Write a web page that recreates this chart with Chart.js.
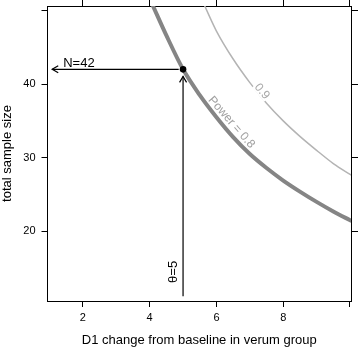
<!DOCTYPE html>
<html>
<head>
<meta charset="utf-8">
<script src="https://cdn.jsdelivr.net/npm/chart.js@4/dist/chart.umd.min.js"></script>
<style>
html, body { margin: 0; padding: 0; background: #fff; }
</style>
</head>
<body>
<canvas id="power-chart" width="358" height="347"></canvas>
<script>
// Werte
var power80X = [4.08, 4.5, 5, 5.5, 6, 6.5, 7, 7.5, 8, 8.5, 9, 9.5, 10.05];
var power80Y = [50.8, 46.6, 42.0, 38.5, 35.5, 32.8, 30.5, 28.6, 26.9, 25.4, 24.0, 22.7, 21.4];
var power90X = [5.63, 6, 6.5, 7, 7.5, 8, 8.5, 9, 9.5, 10.05];
var power90Y = [50.8, 47.2, 43.4, 40.2, 37.4, 35.0, 32.9, 31.0, 29.2, 27.6];

var thetaValue = 5;
var nValue = 42;

var xTicks = [2, 4, 6, 8, 10];
var xTickLabels = ['2', '4', '6', '8', ''];
var yTicks = [20, 30, 40, 50];
var yTickLabels = ['20', '30', '40', ''];

var xTitle = 'D1 change from baseline in verum group';
var yTitle = 'total sample size';

var FONT = "'Liberation Sans', Arial, sans-serif";

var toPoints = (xs, ys) => xs.map((x, i) => ({ x: x, y: ys[i] }));

// feste Achsengroessen, damit der Plotbereich wie im Original liegt
var fixSize = (w, h) => (scale) => {
    if (w != null) scale.width = w;
    if (h != null) scale.height = h;
    scale.paddingTop = 0;
    scale.paddingBottom = 0;
    scale.paddingLeft = 0;
    scale.paddingRight = 0;
};
var setTicks = (values) => (scale) => {
    scale.ticks = values.map((v) => ({ value: v }));
};

var axisBase = (pos, ticks, labels, size, len) => ({
    type: 'linear',
    position: pos,
    afterBuildTicks: setTicks(ticks),
    afterFit: (pos === 'left' || pos === 'right') ? fixSize(size, null) : fixSize(null, size),
    grid: { drawOnChartArea: false, drawTicks: true, tickLength: len, color: '#000', lineWidth: 1 },
    border: { display: true, color: '#000', width: 1 },
    ticks: {
        display: labels != null,
        color: '#000',
        font: { family: FONT, size: 11 },
        padding: 5,
        maxRotation: 0,
        autoSkip: false,
        callback: (v) => {
            var i = ticks.indexOf(v);
            return labels && i >= 0 ? labels[i] : '';
        }
    }
});

var xMin = 0.94, xMax = 10.03, yMin = 10.54, yMax = 50.6;

var scaleX = axisBase('bottom', xTicks, xTickLabels, 46, 6);
scaleX.min = xMin; scaleX.max = xMax;
scaleX.ticks.padding = 4;
scaleX.title = { display: true, text: xTitle, color: '#000', font: { family: FONT, size: 13 }, padding: { top: 0, bottom: -1 } };

var scaleX2 = axisBase('top', xTicks, null, 6, 6);
scaleX2.min = xMin; scaleX2.max = xMax;

var scaleY = axisBase('left', yTicks, yTickLabels, 47.5, 6);
scaleY.min = yMin; scaleY.max = yMax;
scaleY.ticks.padding = 6;
scaleY.title = { display: true, text: yTitle, color: '#000', font: { family: FONT, size: 13 }, padding: { top: 0, bottom: 0 } };

var scaleY2 = axisBase('right', yTicks, null, 7, 7);
scaleY2.min = yMin; scaleY2.max = yMax;

// Pfeilspitzen und Beschriftungen
var notes = {
    id: 'notes',
    afterDatasetsDraw(chart) {
        var ctx = chart.ctx;
        var sx = chart.scales.x, sy = chart.scales.y;
        var px = (v) => sx.getPixelForValue(v);
        var py = (v) => sy.getPixelForValue(v);

        var head = (fromX, fromY, toX, toY) => {
            var a = Math.atan2(toY - fromY, toX - fromX);
            var len = 7, w = Math.PI / 6;
            ctx.beginPath();
            ctx.moveTo(toX - len * Math.cos(a - w), toY - len * Math.sin(a - w));
            ctx.lineTo(toX, toY);
            ctx.lineTo(toX - len * Math.cos(a + w), toY - len * Math.sin(a + w));
            ctx.stroke();
        };

        ctx.save();
        ctx.strokeStyle = '#000';
        ctx.lineWidth = 1.2;
        var h = chart.data.datasets[1].data, v = chart.data.datasets[2].data;
        head(px(h[0].x), py(h[0].y), px(h[1].x), py(h[1].y));
        head(px(v[0].x), py(v[0].y), px(v[1].x), py(v[1].y));

        ctx.fillStyle = '#000';
        ctx.font = '13px ' + FONT;
        ctx.textBaseline = 'alphabetic';
        ctx.textAlign = 'left';
        ctx.fillText('N=' + nValue, px(1.41), py(42.3));

        ctx.save();
        ctx.translate(px(4.71), py(13.0));
        ctx.rotate(-Math.PI / 2);
        ctx.textBaseline = 'middle';
        ctx.fillText('\u03b8=' + thetaValue, 0, 0);
        ctx.restore();

        // Konturbeschriftungen
        ctx.save();
        ctx.translate(px(7.36), py(39.0));
        ctx.rotate(50 * Math.PI / 180);
        ctx.font = '12px ' + FONT;
        ctx.textAlign = 'center';
        ctx.textBaseline = 'middle';
        var tw = ctx.measureText('0.9').width;
        ctx.fillStyle = '#fff';
        ctx.fillRect(-tw / 2 - 1, -5, tw + 2, 10);
        ctx.fillStyle = '#a8a8a8';
        ctx.fillText('0.9', 0, 0);
        ctx.restore();

        ctx.save();
        ctx.translate(px(6.45), py(34.8));
        ctx.rotate(49 * Math.PI / 180);
        ctx.font = '12px ' + FONT;
        ctx.textAlign = 'center';
        ctx.textBaseline = 'middle';
        ctx.fillStyle = '#a0a0a0';
        ctx.fillText('Power = 0.8', 0, 0);
        ctx.restore();

        ctx.restore();
    }
};

// Chart.js zeichnet den ersten Datensatz zuoberst
var canvas = document.getElementById('power-chart');
var context = canvas.getContext('2d');
var chart = new Chart(context, {
    type: 'scatter',
    data: {
        datasets: [{
            data: [{ x: thetaValue, y: nValue }],
            pointRadius: 3.3,
            pointBackgroundColor: '#000',
            pointBorderColor: '#000',
            borderWidth: 0
        }, {
            data: [{ x: 4.87, y: nValue }, { x: 1.08, y: nValue }],
            showLine: true,
            borderColor: '#000',
            borderWidth: 1.2,
            pointRadius: 0
        }, {
            data: [{ x: thetaValue, y: 11.2 }, { x: thetaValue, y: 41.05 }],
            showLine: true,
            borderColor: '#000',
            borderWidth: 1.2,
            pointRadius: 0
        }, {
            data: toPoints(power80X, power80Y),
            showLine: true,
            borderColor: '#858585',
            borderWidth: 4,
            pointRadius: 0,
            cubicInterpolationMode: 'monotone'
        }, {
            data: toPoints(power90X, power90Y),
            showLine: true,
            borderColor: '#b4b4b4',
            borderWidth: 1.5,
            pointRadius: 0,
            cubicInterpolationMode: 'monotone'
        }]
    },
    options: {
        responsive: false,
        animation: false,
        layout: { padding: 0 },
        plugins: { legend: { display: false }, tooltip: { enabled: false } },
        scales: { x: scaleX, x2: scaleX2, y: scaleY, y2: scaleY2 }
    },
    plugins: [notes]
});
</script>
</body>
</html>
